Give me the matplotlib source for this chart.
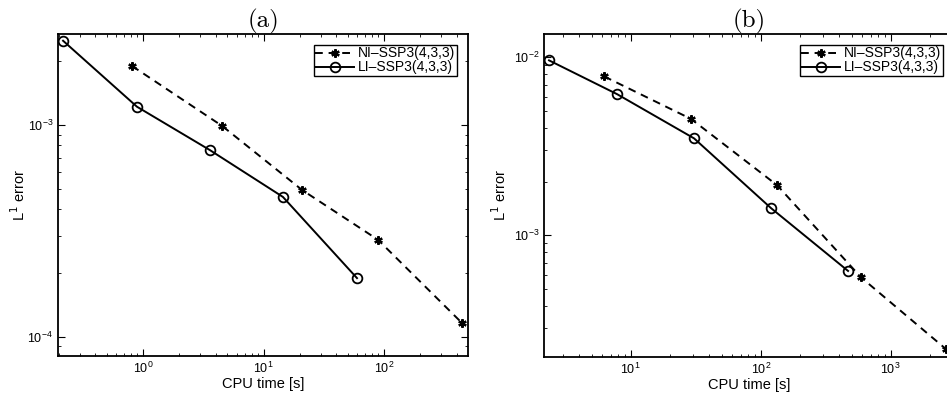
import matplotlib
matplotlib.use("Agg")
import matplotlib.pyplot as plt
from matplotlib.ticker import LogLocator, NullFormatter

# Panel (a)
a_li_time = [0.217, 0.89, 3.6, 14.5, 59.7]
a_li_err = [2.5e-3, 1.22e-3, 7.6e-4, 4.57e-4, 1.89e-4]
a_ni_time = [0.81, 4.53, 20.9, 89.0, 444.0]
a_ni_err = [1.9e-3, 9.9e-4, 4.93e-4, 2.87e-4, 1.16e-4]

# Panel (b)
b_li_time = [2.35, 7.85, 30.7, 120.0, 470.0]
b_li_err = [9.6e-3, 6.2e-3, 3.5e-3, 1.42e-3, 6.3e-4]
b_ni_time = [6.24, 29.1, 133.6, 591.0, 2670.0]
b_ni_err = [7.8e-3, 4.5e-3, 1.91e-3, 5.8e-4, 2.29e-4]

labels = ["NI\u2013SSP3(4,3,3)", "LI\u2013SSP3(4,3,3)"]
titles = ["(a)", "(b)"]

plt.rcParams['font.family'] = ['Liberation Sans', 'DejaVu Sans']

fig = plt.figure(figsize=(9.47, 4.01), dpi=100)
W, H = 947.0, 401.0
ax1 = fig.add_axes([58 / W, (H - 356) / H, 410 / W, 322 / H])
ax2 = fig.add_axes([544 / W, (H - 357) / H, 410 / W, 323 / H])

def style(ax, xlim, ylim, title, ni, li, ylab_x):
    ax.loglog(ni[0], ni[1], linestyle=(0, (4, 3)), color='black', lw=1.4,
              marker=(6, 2, 0), markersize=6, mew=1.6, label=labels[0])
    ax.loglog(li[0], li[1], linestyle='-', color='black', lw=1.4,
              marker='o', markersize=7, mfc='none', mew=1.3, label=labels[1])
    ax.set_xlim(*xlim)
    ax.set_ylim(*ylim)
    ax.tick_params(which='both', direction='in', top=True, right=True, labelsize=9)
    ax.tick_params(which='major', length=5, width=0.8)
    ax.tick_params(which='minor', length=2.5, width=0.6)
    ax.xaxis.set_minor_locator(LogLocator(base=10, subs=range(2, 10), numticks=20))
    ax.yaxis.set_minor_locator(LogLocator(base=10, subs=range(2, 10), numticks=20))
    ax.xaxis.set_minor_formatter(NullFormatter())
    ax.yaxis.set_minor_formatter(NullFormatter())
    for s in ax.spines.values():
        s.set_linewidth(1.3)
    ax.set_xlabel("CPU time [s]", fontsize=10.5, labelpad=1)
    ax.set_ylabel("L$^1$ error", fontsize=10.5)
    ax.yaxis.set_label_coords(ylab_x, 0.5)
    ax.set_title(title, fontfamily='cmr10', fontsize=18, pad=3)
    leg = ax.legend(loc='upper right', fontsize=10, frameon=True, fancybox=False,
                    edgecolor='black', framealpha=1, borderaxespad=0.8,
                    handlelength=2.8, handletextpad=0.3, borderpad=0.1,
                    labelspacing=0.0)
    leg.get_frame().set_linewidth(1.0)

style(ax1, (0.197, 498), (8.1e-5, 2.69e-3), titles[0],
      (a_ni_time, a_ni_err), (a_li_time, a_li_err), -0.073)
style(ax2, (2.15, 3070), (2.07e-4, 1.35e-2), titles[1],
      (b_ni_time, b_ni_err), (b_li_time, b_li_err), -0.085)

fig.savefig("out.png", dpi=100)
